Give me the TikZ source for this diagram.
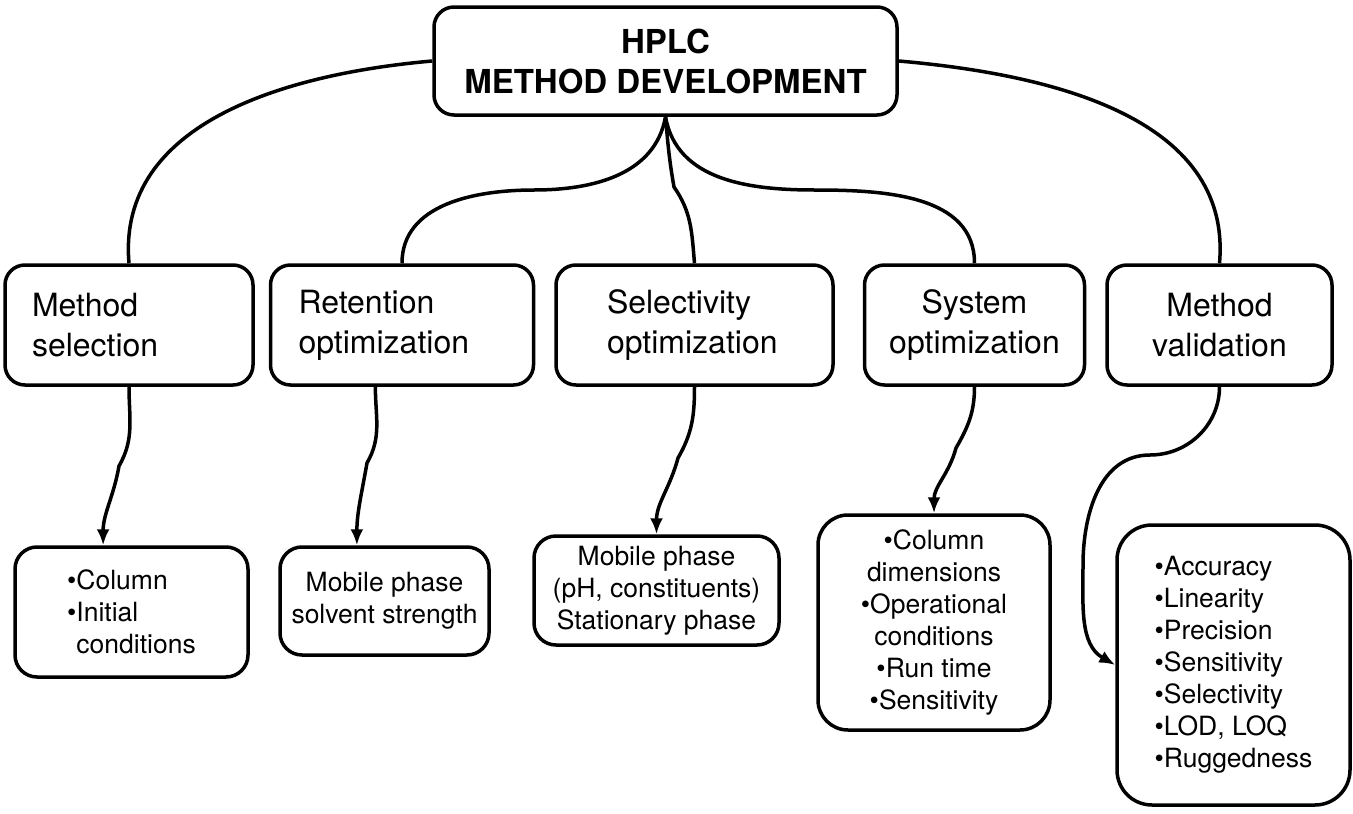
\documentclass[tikz,border=0pt]{standalone}
\usepackage{fontspec}
\setmainfont{TeX Gyre Heros}
\usetikzlibrary{calc}
\usetikzlibrary{positioning}
\usetikzlibrary{arrows.meta}
\tikzstyle{topnode} = [draw, rectangle, rounded corners=20pt, line width=3.5pt, minimum width=463pt, minimum height=108pt, align=center, font=\fontsize{33}{40}\selectfont\bfseries]
\tikzstyle{stagenode} = [draw, rectangle, rounded corners=20pt, line width=3.5pt, minimum height=120pt, font=\fontsize{32}{40}\selectfont]
\tikzstyle{detailnode} = [draw, rectangle, rounded corners=22pt, line width=3.5pt, font=\fontsize{26.5}{32}\selectfont]

\begin{document}
\begin{tikzpicture}[x=1pt, y=-1pt, line width=3.5pt, >={Latex[length=16pt,width=13pt]}]
  \useasboundingbox (0,0) rectangle (1353,814);

  \node[topnode] (hplc) at (665.5,61) {HPLC\\METHOD DEVELOPMENT};

  \node[stagenode, text width=194pt, inner xsep=27pt, align=left] (msel) at (129,325) {Method\\selection};
  \node[stagenode, right=14pt of msel, text width=207pt, inner xsep=28pt, align=left] (ret) {Retention\\optimization};
  \node[stagenode, right=19pt of ret, text width=175pt, inner xsep=51pt, align=left] (sel) {Selectivity\\optimization};
  \node[stagenode, right=28pt of sel, minimum width=220pt, align=center] (sys) {System\\optimization};
  \node[stagenode, right=19pt of sys, minimum width=225pt, align=center] (val) {Method\\validation};

  \node[detailnode, minimum width=233pt, minimum height=130pt, align=left] (msel_d) at (131.5,612) {•Column\\•Initial\\\hphantom{•}conditions};
  \node[detailnode, minimum width=209pt, minimum height=108pt, align=center] (ret_d) at (384.5,601) {Mobile phase\\solvent strength};
  \node[detailnode, minimum width=245pt, minimum height=109pt, align=center] (sel_d) at (656.5,590.5) {Mobile phase\\(pH, constituents)\\Stationary phase};
  \node[detailnode, rounded corners=30pt, minimum width=232pt, minimum height=215pt, align=center] (sys_d) at (934,622.5) {•Column\\dimensions\\•Operational\\conditions\\•Run time\\•Sensitivity};
  \node[detailnode, rounded corners=35pt, minimum width=233pt, minimum height=280pt, align=left] (val_d) at (1233.5,665) {•Accuracy\\•Linearity\\•Precision\\•Sensitivity\\•Selectivity\\•LOD, LOQ\\•Ruggedness};

  % from the top box down to the five stages
  \draw (hplc.west) to[out=185,in=95] (msel.north);
  \draw (hplc.east) to[out=-5,in=85] (val.north);
  \draw (hplc.south) to[out=-100,in=0] (534,190) to[out=180,in=90] (ret.north);
  \draw (hplc.south) to[out=-85,in=100] (674,187) to[out=-55,in=95] (sel.north);
  \draw (hplc.south) to[out=-80,in=180] (815,190) to[out=0,in=90] (sys.north);

  % stages to their details
  \draw[->] (msel.south) to[out=-90,in=60] (119,466) to[out=-100,in=90] ($(msel_d.north west)!0.38!(msel_d.north east)$);
  \draw[->] ($(ret.south west)!0.4!(ret.south east)$) to[out=-90,in=60] (367,463) to[out=-100,in=90] ($(ret_d.north west)!0.37!(ret_d.north east)$);
  \draw[->] (sel.south) to[out=-90,in=60] (678,458) to[out=-105,in=90] (sel_d.north);
  \draw[->] (sys.south) to[out=-90,in=60] (956,448) to[out=-105,in=90] (sys_d.north);
  \draw[->] (val.south) to[out=-90,in=0] (1150,455) to[out=180,in=90] (1083,565) to[out=-90,in=150] (val_d.west);
\end{tikzpicture}
\end{document}
